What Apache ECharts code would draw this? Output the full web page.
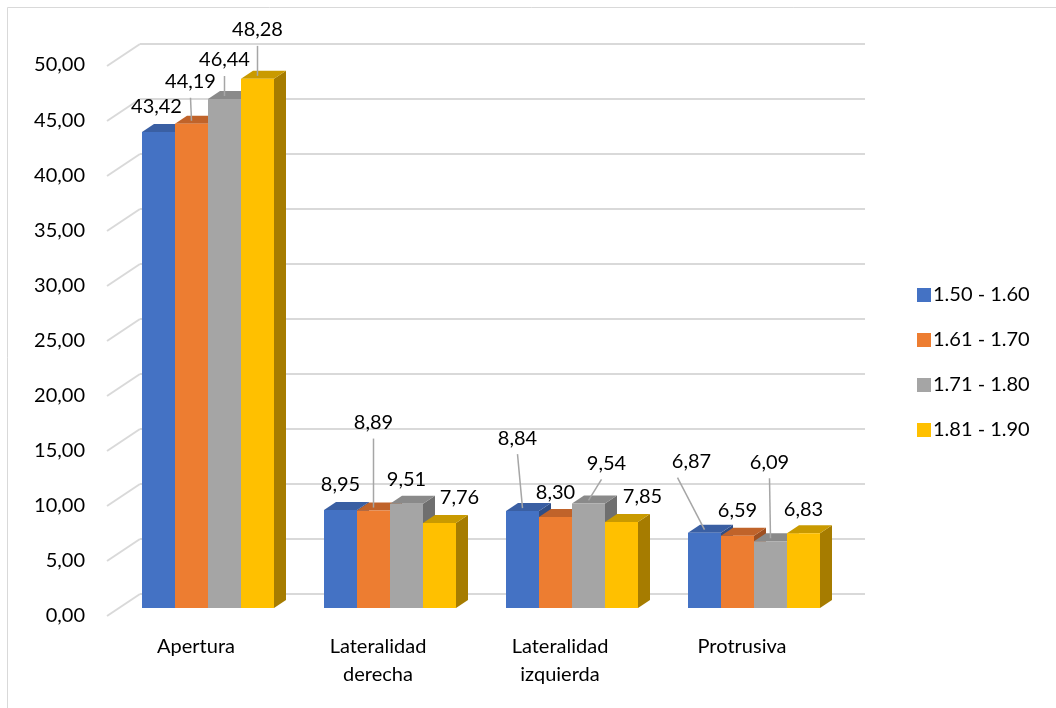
<!DOCTYPE html>
<html><head><meta charset="utf-8">
<script src="https://cdn.jsdelivr.net/npm/echarts@6/dist/echarts.min.js"></script>
<style>html,body{margin:0;padding:0;background:#fff}#c{width:1056px;height:708px}</style>
</head><body><div id="c"></div>
<script>
// ---- data ----
const categories = ['Apertura', 'Lateralidad\nderecha', 'Lateralidad\nizquierda', 'Protrusiva'];
const seriesNames = ['1.50 - 1.60', '1.61 - 1.70', '1.71 - 1.80', '1.81 - 1.90'];
const s150_160 = [43.42, 8.95, 8.84, 6.87];
const s161_170 = [44.19, 8.89, 8.30, 6.59];
const s171_180 = [46.44, 9.51, 9.54, 6.09];
const s181_190 = [48.28, 7.76, 7.85, 6.83];
const yTicks = [0, 5, 10, 15, 20, 25, 30, 35, 40, 45, 50];

// ---- layout / style ----
const seriesValues = [s150_160, s161_170, s171_180, s181_190];
const frontColors = ['#4472C4', '#ED7D31', '#A5A5A5', '#FFC000'];
const topColors   = ['#3A5FA3', '#C0632A', '#8A8A8A', '#C99A00'];
const sideColors  = ['#2F4E86', '#9E5022', '#6F6F6F', '#A67C00'];
const FONT = 'Lato, "Open Sans", sans-serif';
const TEXT_COLOR = '#000000';
const BAR_FRAC = 33 / 182;      // bar width as fraction of category band
const DEPTH = [12, -8];          // bar depth projection
const WALL = [-33, 22];          // back wall -> front floor projection
// label offsets relative to bar front-top centre: [dx, dy, leaderStartDx or null]
const labelLayout = [
  [[-2, -26, null], [0, -25, null], [-5, -73, 0], [-13, -71, -14]],
  [[-1, -42, 0], [0, -88, 0], [0, -24, null], [0, -25, null]],
  [[0, -39, 0], [0, -24, null], [18, -40, -5], [-1, -79, 0]],
  [[0, -49, 0], [20, -25, null], [21, -25, null], [0, -24, null]]
];
const fmt = v => v.toFixed(2).replace('.', ',');

function barRenderer(si) {
  return function (params, api) {
    const c = api.value(0), v = api.value(1);
    const p = api.coord([c, v]);
    const p0 = api.coord([c, 0]);
    const band = api.size([1, 0])[0];
    const bw = band * BAR_FRAC;
    const x = p[0] - 2 * bw + si * bw;
    const top = p[1], bot = p0[1];
    const dx = DEPTH[0], dy = DEPTH[1];
    const children = [
      { type: 'polygon', shape: { points: [[x + bw, top], [x + bw + dx, top + dy], [x + bw + dx, bot + dy], [x + bw, bot]] },
        style: { fill: sideColors[si] } },
      { type: 'polygon', shape: { points: [[x, top], [x + bw, top], [x + bw + dx, top + dy], [x + dx, top + dy]] },
        style: { fill: topColors[si] } },
      { type: 'rect', shape: { x: x, y: top, width: bw, height: bot - top },
        style: { fill: frontColors[si] } }
    ];
    const cx = x + bw / 2;
    const L = labelLayout[si][params.dataIndex];
    const lx = cx + L[0], ly = top + L[1];
    if (L[2] !== null) {
      children.push({ type: 'line', shape: { x1: lx + L[2], y1: ly + 16, x2: cx, y2: top - 3 },
        style: { stroke: '#A6A6A6', lineWidth: 1.5 } });
    }
    children.push({ type: 'text', style: { text: fmt(v), x: lx, y: ly, align: 'center', verticalAlign: 'middle',
      fontSize: 20, fontFamily: FONT, fill: TEXT_COLOR } });
    return { type: 'group', children: children };
  };
}

const barSeries = seriesValues.map((vals, si) => ({
  name: seriesNames[si],
  type: 'custom',
  xAxisIndex: 1, yAxisIndex: 1,
  z: 3 + si,
  itemStyle: { color: frontColors[si] },
  encode: { x: 0, y: 1 },
  data: vals.map((v, i) => [i, v]),
  renderItem: barRenderer(si)
}));

const slantSeries = {
  type: 'custom',
  xAxisIndex: 0, yAxisIndex: 0,
  z: 1, silent: true,
  encode: { x: 0, y: 1 },
  data: yTicks.map(t => [0, t]),
  renderItem: function (params, api) {
    const p = api.coord([0, api.value(1)]);
    return { type: 'line', shape: { x1: p[0], y1: p[1], x2: p[0] + WALL[0], y2: p[1] + WALL[1] },
      style: { stroke: '#D9D9D9', lineWidth: 2 } };
  }
};

const chart = echarts.init(document.getElementById('c'), null, { renderer: 'canvas' });
chart.setOption({
  animation: false,
  backgroundColor: '#ffffff',
  graphic: [
    { type: 'line', shape: { x1: 7.5, y1: 7.5, x2: 1056, y2: 7.5 }, style: { stroke: '#D9D9D9', lineWidth: 1 } },
    { type: 'line', shape: { x1: 7.5, y1: 7.5, x2: 7.5, y2: 708 }, style: { stroke: '#D9D9D9', lineWidth: 1 } }
  ],
  legend: {
    orient: 'vertical', left: 917, top: 285, padding: 0,
    itemWidth: 14, itemHeight: 14, itemGap: 25, icon: 'rect',
    data: seriesNames,
    textStyle: { fontSize: 20, fontFamily: FONT, color: TEXT_COLOR, lineHeight: 20, padding: [0, 0, 0, -3] }
  },
  grid: [
    { left: 140, right: 191, top: 44, bottom: 114 },
    { left: 117, right: 211, top: 60, bottom: 100 },
    { left: 105, right: 223, top: 65, bottom: 92 }
  ],
  xAxis: [
    { gridIndex: 0, type: 'value', min: 0, max: 1, show: false },
    { gridIndex: 1, type: 'category', data: categories, show: false },
    { gridIndex: 2, type: 'category', data: categories,
      axisLine: { show: false }, axisTick: { show: false },
      axisLabel: { fontSize: 20, fontFamily: FONT, color: TEXT_COLOR, lineHeight: 28, margin: 17, interval: 0 } }
  ],
  yAxis: [
    { gridIndex: 0, type: 'value', min: 0, max: 50, interval: 5,
      axisLine: { show: false }, axisTick: { show: false }, axisLabel: { show: false },
      splitLine: { lineStyle: { color: '#D9D9D9', width: 2 } } },
    { gridIndex: 1, type: 'value', min: 0, max: 50, interval: 5, show: false, splitLine: { show: false } },
    { gridIndex: 2, type: 'value', min: 0, max: 50, interval: 5,
      axisLine: { show: false }, axisTick: { show: false }, splitLine: { show: false },
      axisLabel: { fontSize: 20, fontFamily: FONT, color: TEXT_COLOR, margin: 20, formatter: v => fmt(v) } }
  ],
  series: [slantSeries].concat(barSeries)
});
</script>
</body></html>
